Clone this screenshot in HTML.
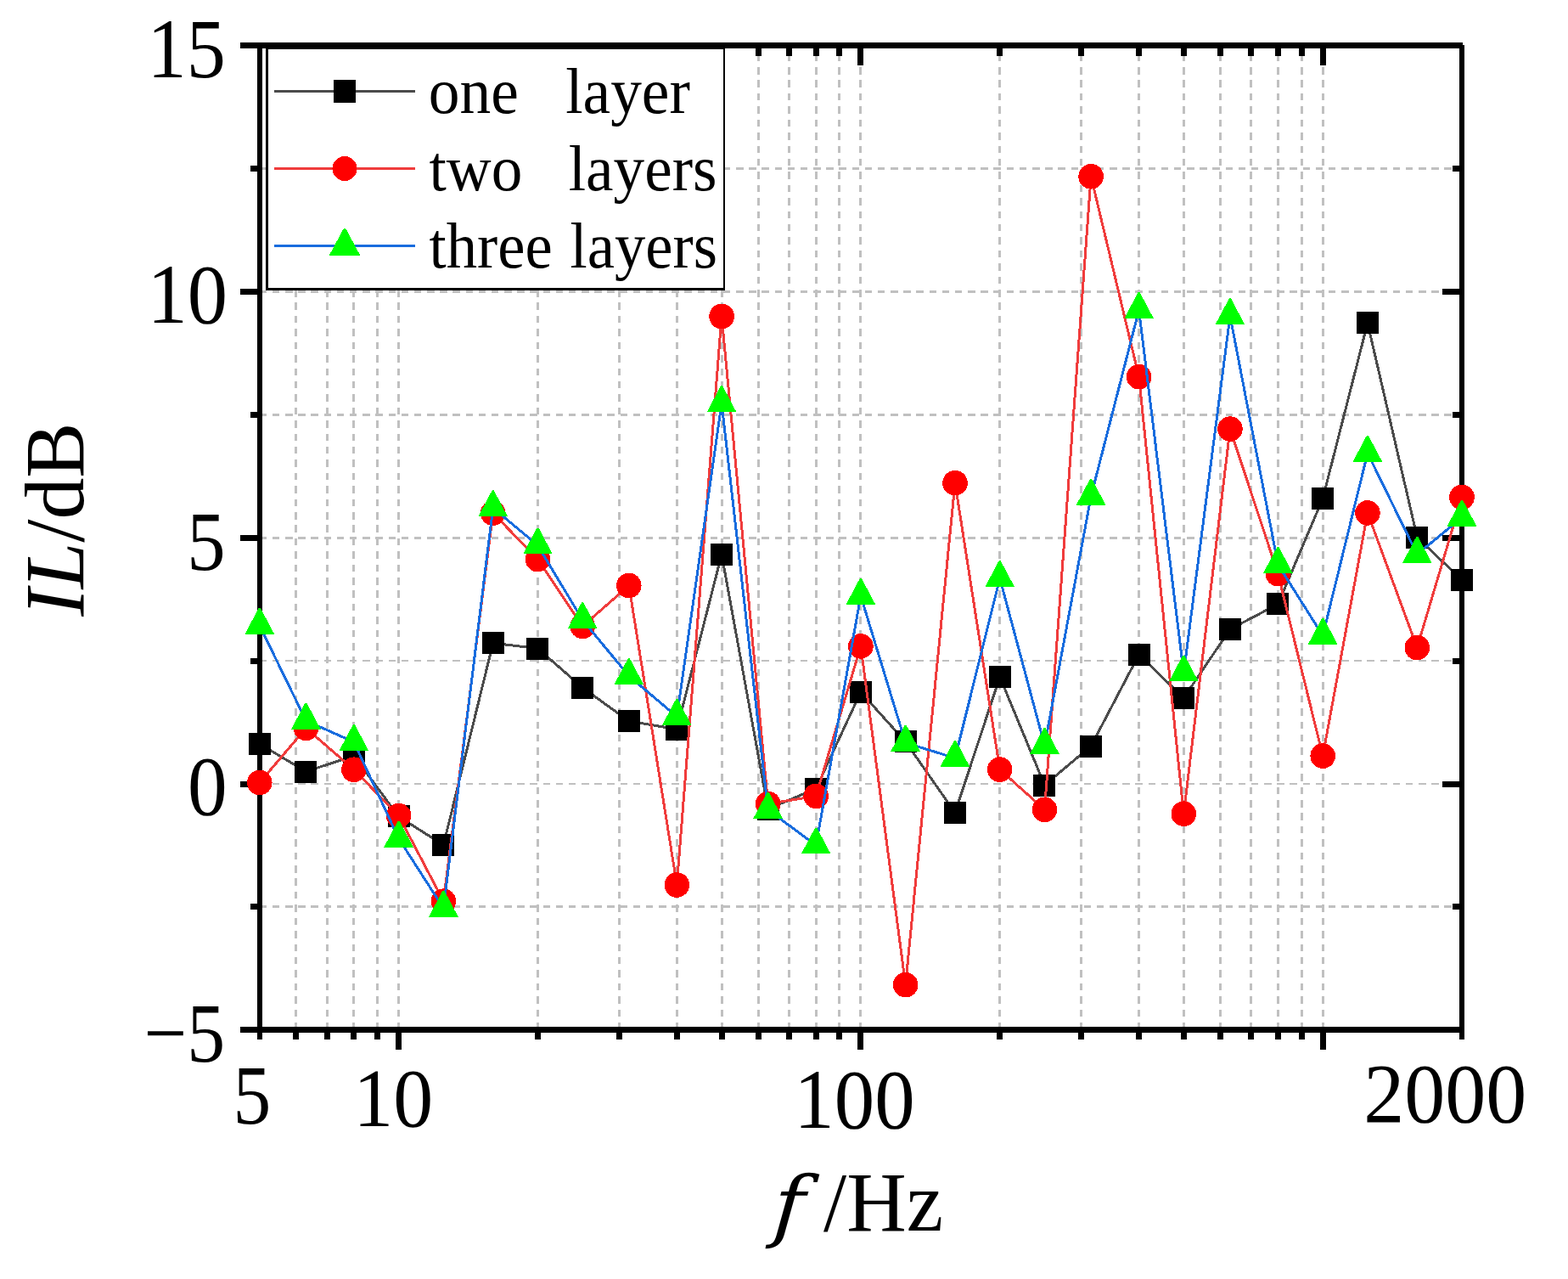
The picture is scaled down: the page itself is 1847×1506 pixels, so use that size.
<!DOCTYPE html>
<html lang="en"><head><meta charset="utf-8"><title>IL/dB versus f/Hz</title>
<style>
html,body{margin:0;padding:0;background:#ffffff;}
body{width:1847px;height:1506px;overflow:hidden;}
svg{display:block;}
text{font-family:"Liberation Serif",serif;fill:#000000;}
.it{font-style:italic;}
</style></head><body>
<svg width="1847" height="1506" viewBox="0 0 1847 1506" role="img" aria-label="Insertion loss IL/dB versus frequency f/Hz for one, two and three layers">
<rect x="0" y="0" width="1847" height="1506" fill="#ffffff"/>
<g stroke="#c0c0c0" stroke-width="3" fill="none" shape-rendering="crispEdges">
<line x1="305.80" y1="198.5" x2="1722.00" y2="198.5" stroke-width="3" stroke-dasharray="8.50 6.67"/>
<line x1="305.80" y1="343.5" x2="1722.00" y2="343.5" stroke-width="3" stroke-dasharray="8.50 6.67"/>
<line x1="305.80" y1="488.5" x2="1722.00" y2="488.5" stroke-width="3" stroke-dasharray="8.50 6.67"/>
<line x1="305.80" y1="633.5" x2="1722.00" y2="633.5" stroke-width="3" stroke-dasharray="8.50 6.67"/>
<line x1="305.80" y1="778.0" x2="1722.00" y2="778.0" stroke-width="2" stroke-dasharray="8.50 6.67"/>
<line x1="305.80" y1="923.0" x2="1722.00" y2="923.0" stroke-width="2" stroke-dasharray="8.50 6.67"/>
<line x1="305.80" y1="1067.5" x2="1722.00" y2="1067.5" stroke-width="3" stroke-dasharray="8.50 6.67"/>
<line x1="348.5" y1="1212.50" x2="348.5" y2="53.50" stroke-dasharray="8.50 6.91"/>
<line x1="385.5" y1="1212.50" x2="385.5" y2="53.50" stroke-dasharray="8.50 6.91"/>
<line x1="416.5" y1="1212.50" x2="416.5" y2="53.50" stroke-dasharray="8.50 6.91"/>
<line x1="444.5" y1="1212.50" x2="444.5" y2="53.50" stroke-dasharray="8.50 6.91"/>
<line x1="469.5" y1="1212.50" x2="469.5" y2="53.50" stroke-dasharray="8.50 6.91"/>
<line x1="633.5" y1="1212.50" x2="633.5" y2="53.50" stroke-dasharray="8.50 6.91"/>
<line x1="729.5" y1="1212.50" x2="729.5" y2="53.50" stroke-dasharray="8.50 6.91"/>
<line x1="797.5" y1="1212.50" x2="797.5" y2="53.50" stroke-dasharray="8.50 6.91"/>
<line x1="850.5" y1="1212.50" x2="850.5" y2="53.50" stroke-dasharray="8.50 6.91"/>
<line x1="893.5" y1="1212.50" x2="893.5" y2="53.50" stroke-dasharray="8.50 6.91"/>
<line x1="929.5" y1="1212.50" x2="929.5" y2="53.50" stroke-dasharray="8.50 6.91"/>
<line x1="961.5" y1="1212.50" x2="961.5" y2="53.50" stroke-dasharray="8.50 6.91"/>
<line x1="988.5" y1="1212.50" x2="988.5" y2="53.50" stroke-dasharray="8.50 6.91"/>
<line x1="1013.5" y1="1212.50" x2="1013.5" y2="53.50" stroke-dasharray="8.50 6.91"/>
<line x1="1177.5" y1="1212.50" x2="1177.5" y2="53.50" stroke-dasharray="8.50 6.91"/>
<line x1="1273.5" y1="1212.50" x2="1273.5" y2="53.50" stroke-dasharray="8.50 6.91"/>
<line x1="1341.5" y1="1212.50" x2="1341.5" y2="53.50" stroke-dasharray="8.50 6.91"/>
<line x1="1394.5" y1="1212.50" x2="1394.5" y2="53.50" stroke-dasharray="8.50 6.91"/>
<line x1="1437.5" y1="1212.50" x2="1437.5" y2="53.50" stroke-dasharray="8.50 6.91"/>
<line x1="1473.5" y1="1212.50" x2="1473.5" y2="53.50" stroke-dasharray="8.50 6.91"/>
<line x1="1505.5" y1="1212.50" x2="1505.5" y2="53.50" stroke-dasharray="8.50 6.91"/>
<line x1="1533.5" y1="1212.50" x2="1533.5" y2="53.50" stroke-dasharray="8.50 6.91"/>
<line x1="1558.5" y1="1212.50" x2="1558.5" y2="53.50" stroke-dasharray="8.50 6.91"/>
</g>
<g fill="#000000" shape-rendering="crispEdges">
<rect x="283" y="50" width="1440" height="7"/>
<rect x="283" y="1209" width="1442" height="7"/>
<rect x="303" y="50" width="6" height="1174"/>
<rect x="1719" y="53" width="6" height="1171"/>
<rect x="345" y="1212" width="7" height="12"/>
<rect x="345" y="53" width="7" height="13"/>
<rect x="382" y="1212" width="7" height="12"/>
<rect x="382" y="53" width="7" height="13"/>
<rect x="413" y="1212" width="7" height="12"/>
<rect x="413" y="53" width="7" height="13"/>
<rect x="441" y="1212" width="7" height="12"/>
<rect x="441" y="53" width="7" height="13"/>
<rect x="466" y="1212" width="7" height="24"/>
<rect x="466" y="53" width="7" height="24"/>
<rect x="630" y="1212" width="7" height="12"/>
<rect x="630" y="53" width="7" height="13"/>
<rect x="726" y="1212" width="7" height="12"/>
<rect x="726" y="53" width="7" height="13"/>
<rect x="794" y="1212" width="7" height="12"/>
<rect x="794" y="53" width="7" height="13"/>
<rect x="847" y="1212" width="7" height="12"/>
<rect x="847" y="53" width="7" height="13"/>
<rect x="890" y="1212" width="7" height="12"/>
<rect x="890" y="53" width="7" height="13"/>
<rect x="926" y="1212" width="7" height="12"/>
<rect x="926" y="53" width="7" height="13"/>
<rect x="958" y="1212" width="7" height="12"/>
<rect x="958" y="53" width="7" height="13"/>
<rect x="985" y="1212" width="7" height="12"/>
<rect x="985" y="53" width="7" height="13"/>
<rect x="1010" y="1212" width="7" height="24"/>
<rect x="1010" y="53" width="7" height="24"/>
<rect x="1174" y="1212" width="7" height="12"/>
<rect x="1174" y="53" width="7" height="13"/>
<rect x="1270" y="1212" width="7" height="12"/>
<rect x="1270" y="53" width="7" height="13"/>
<rect x="1338" y="1212" width="7" height="12"/>
<rect x="1338" y="53" width="7" height="13"/>
<rect x="1391" y="1212" width="7" height="12"/>
<rect x="1391" y="53" width="7" height="13"/>
<rect x="1434" y="1212" width="7" height="12"/>
<rect x="1434" y="53" width="7" height="13"/>
<rect x="1470" y="1212" width="7" height="12"/>
<rect x="1470" y="53" width="7" height="13"/>
<rect x="1502" y="1212" width="7" height="12"/>
<rect x="1502" y="53" width="7" height="13"/>
<rect x="1530" y="1212" width="7" height="12"/>
<rect x="1530" y="53" width="7" height="13"/>
<rect x="1555" y="1212" width="7" height="24"/>
<rect x="1555" y="53" width="7" height="24"/>
<rect x="295" y="195" width="11" height="7"/>
<rect x="1711" y="195" width="11" height="7"/>
<rect x="283" y="340" width="23" height="7"/>
<rect x="1699" y="340" width="23" height="7"/>
<rect x="295" y="485" width="11" height="7"/>
<rect x="1711" y="485" width="11" height="7"/>
<rect x="283" y="630" width="23" height="7"/>
<rect x="1699" y="630" width="23" height="7"/>
<rect x="295" y="775" width="11" height="7"/>
<rect x="1711" y="775" width="11" height="7"/>
<rect x="283" y="920" width="23" height="7"/>
<rect x="1699" y="920" width="23" height="7"/>
<rect x="295" y="1064" width="11" height="7"/>
<rect x="1711" y="1064" width="11" height="7"/>
</g>
<g>
<g shape-rendering="crispEdges">
<rect x="313" y="55" width="541" height="287" fill="#ffffff"/>
<rect x="313" y="55" width="541" height="3" fill="#000000"/>
<rect x="313" y="339" width="541" height="3" fill="#000000"/>
<rect x="313" y="55" width="3" height="287" fill="#000000"/>
<rect x="852" y="55" width="2" height="287" fill="#000000"/>
</g>
<line x1="323.1" y1="107.50" x2="489.0" y2="107.50" stroke="#4b4b4b" stroke-width="3" shape-rendering="crispEdges"/>
<rect x="393" y="94" width="26" height="27" fill="#000000" shape-rendering="crispEdges"/>
<line x1="323.1" y1="198.50" x2="489.0" y2="198.50" stroke="#f03c3c" stroke-width="3" shape-rendering="crispEdges"/>
<circle cx="406" cy="198.5" r="14.5" fill="#ff0000" shape-rendering="crispEdges"/>
<line x1="323.1" y1="289.50" x2="489.0" y2="289.50" stroke="#186cde" stroke-width="3" shape-rendering="crispEdges"/>
<polygon points="405,268.6 407,268.6 424.4,301 387.6,301" fill="#00ff00" shape-rendering="crispEdges"/>
</g>
<g>
<polyline points="305.80,876.00 360.43,908.50 416.89,890.00 469.64,961.50 522.38,995.00 580.73,757.20 633.48,763.60 686.22,809.70 740.85,849.10 797.32,858.70 850.06,652.90 904.69,952.60 961.16,928.60 1013.90,814.90 1066.64,873.40 1124.99,956.90 1177.74,797.00 1230.48,924.50 1285.11,878.50 1341.58,770.80 1394.32,821.80 1448.95,741.00 1505.42,711.30 1558.16,587.00 1610.91,380.30 1669.26,632.60 1722.00,683.00" fill="none" stroke="#4b4b4b" stroke-width="3.00" stroke-linejoin="round" shape-rendering="crispEdges"/>
<g fill="#000000" shape-rendering="crispEdges">
<rect x="293" y="863" width="26" height="26"/>
<rect x="347" y="896" width="26" height="26"/>
<rect x="404" y="877" width="26" height="26"/>
<rect x="457" y="948" width="26" height="26"/>
<rect x="509" y="982" width="26" height="26"/>
<rect x="568" y="744" width="26" height="26"/>
<rect x="620" y="751" width="26" height="26"/>
<rect x="673" y="797" width="26" height="26"/>
<rect x="728" y="836" width="26" height="26"/>
<rect x="784" y="846" width="26" height="26"/>
<rect x="837" y="640" width="26" height="26"/>
<rect x="892" y="940" width="26" height="26"/>
<rect x="948" y="916" width="26" height="26"/>
<rect x="1001" y="802" width="26" height="26"/>
<rect x="1054" y="860" width="26" height="26"/>
<rect x="1112" y="944" width="26" height="26"/>
<rect x="1165" y="784" width="26" height="26"/>
<rect x="1217" y="912" width="26" height="26"/>
<rect x="1272" y="866" width="26" height="26"/>
<rect x="1329" y="758" width="26" height="26"/>
<rect x="1381" y="809" width="26" height="26"/>
<rect x="1436" y="728" width="26" height="26"/>
<rect x="1492" y="698" width="26" height="26"/>
<rect x="1545" y="574" width="26" height="26"/>
<rect x="1598" y="367" width="26" height="26"/>
<rect x="1656" y="620" width="26" height="26"/>
<rect x="1709" y="670" width="26" height="26"/>
</g>
<polyline points="305.80,921.50 360.43,857.40 416.89,906.20 469.64,960.50 522.38,1061.20 580.73,604.10 633.48,658.60 686.22,737.40 740.85,689.50 797.32,1042.00 850.06,372.50 904.69,946.50 961.16,937.40 1013.90,760.90 1066.64,1159.60 1124.99,568.70 1177.74,906.10 1230.48,953.40 1285.11,207.80 1341.58,443.70 1394.32,958.20 1448.95,505.10 1505.42,675.70 1558.16,890.10 1610.91,603.90 1669.26,762.60 1722.00,585.50" fill="none" stroke="#f03c3c" stroke-width="3.00" stroke-linejoin="round" shape-rendering="crispEdges"/>
<g fill="#ff0000" shape-rendering="crispEdges">
<circle cx="305.8" cy="921.5" r="14.8"/>
<circle cx="360.4" cy="857.4" r="14.8"/>
<circle cx="416.9" cy="906.2" r="14.8"/>
<circle cx="469.6" cy="960.5" r="14.8"/>
<circle cx="522.4" cy="1061.2" r="14.8"/>
<circle cx="580.7" cy="604.1" r="14.8"/>
<circle cx="633.5" cy="658.6" r="14.8"/>
<circle cx="686.2" cy="737.4" r="14.8"/>
<circle cx="740.8" cy="689.5" r="14.8"/>
<circle cx="797.3" cy="1042.0" r="14.8"/>
<circle cx="850.1" cy="372.5" r="14.8"/>
<circle cx="904.7" cy="946.5" r="14.8"/>
<circle cx="961.2" cy="937.4" r="14.8"/>
<circle cx="1013.9" cy="760.9" r="14.8"/>
<circle cx="1066.6" cy="1159.6" r="14.8"/>
<circle cx="1125.0" cy="568.7" r="14.8"/>
<circle cx="1177.7" cy="906.1" r="14.8"/>
<circle cx="1230.5" cy="953.4" r="14.8"/>
<circle cx="1285.1" cy="207.8" r="14.8"/>
<circle cx="1341.6" cy="443.7" r="14.8"/>
<circle cx="1394.3" cy="958.2" r="14.8"/>
<circle cx="1448.9" cy="505.1" r="14.8"/>
<circle cx="1505.4" cy="675.7" r="14.8"/>
<circle cx="1558.2" cy="890.1" r="14.8"/>
<circle cx="1610.9" cy="603.9" r="14.8"/>
<circle cx="1669.3" cy="762.6" r="14.8"/>
<circle cx="1722.0" cy="585.5" r="14.8"/>
</g>
<polyline points="305.80,736.55 360.43,848.55 416.89,873.75 469.64,987.45 522.38,1069.45 580.73,598.05 633.48,642.25 686.22,730.05 740.85,795.95 797.32,843.85 850.06,475.05 904.69,953.55 961.16,995.25 1013.90,701.65 1066.64,874.55 1124.99,892.65 1177.74,680.95 1230.48,877.75 1285.11,584.55 1341.58,364.95 1394.32,792.25 1448.95,372.05 1505.42,664.75 1558.16,748.45 1610.91,533.55 1669.26,652.75 1722.00,609.45" fill="none" stroke="#186cde" stroke-width="3.00" stroke-linejoin="round" shape-rendering="crispEdges"/>
<g fill="#00ff00" shape-rendering="crispEdges">
<polygon points="304.8,715.8 306.8,715.8 323.1,746.6 288.5,746.6"/>
<polygon points="359.4,827.8 361.4,827.8 377.7,858.6 343.1,858.6"/>
<polygon points="415.9,853.0 417.9,853.0 434.2,883.8 399.6,883.8"/>
<polygon points="468.6,966.7 470.6,966.7 486.9,997.5 452.3,997.5"/>
<polygon points="521.4,1048.7 523.4,1048.7 539.7,1079.5 505.1,1079.5"/>
<polygon points="579.7,577.3 581.7,577.3 598.0,608.1 563.4,608.1"/>
<polygon points="632.5,621.5 634.5,621.5 650.8,652.3 616.2,652.3"/>
<polygon points="685.2,709.3 687.2,709.3 703.5,740.1 668.9,740.1"/>
<polygon points="739.8,775.2 741.8,775.2 758.1,806.0 723.5,806.0"/>
<polygon points="796.3,823.1 798.3,823.1 814.6,853.9 780.0,853.9"/>
<polygon points="849.1,454.2 851.1,454.2 867.4,485.1 832.8,485.1"/>
<polygon points="903.7,932.8 905.7,932.8 922.0,963.6 887.4,963.6"/>
<polygon points="960.2,974.5 962.2,974.5 978.5,1005.3 943.9,1005.3"/>
<polygon points="1012.9,680.9 1014.9,680.9 1031.2,711.7 996.6,711.7"/>
<polygon points="1065.6,853.8 1067.6,853.8 1083.9,884.6 1049.3,884.6"/>
<polygon points="1124.0,871.9 1126.0,871.9 1142.3,902.7 1107.7,902.7"/>
<polygon points="1176.7,660.2 1178.7,660.2 1195.0,691.0 1160.4,691.0"/>
<polygon points="1229.5,857.0 1231.5,857.0 1247.8,887.8 1213.2,887.8"/>
<polygon points="1284.1,563.8 1286.1,563.8 1302.4,594.6 1267.8,594.6"/>
<polygon points="1340.6,344.1 1342.6,344.1 1358.9,375.0 1324.3,375.0"/>
<polygon points="1393.3,771.5 1395.3,771.5 1411.6,802.3 1377.0,802.3"/>
<polygon points="1447.9,351.2 1449.9,351.2 1466.2,382.1 1431.6,382.1"/>
<polygon points="1504.4,644.0 1506.4,644.0 1522.7,674.8 1488.1,674.8"/>
<polygon points="1557.2,727.7 1559.2,727.7 1575.5,758.5 1540.9,758.5"/>
<polygon points="1609.9,512.8 1611.9,512.8 1628.2,543.6 1593.6,543.6"/>
<polygon points="1668.3,632.0 1670.3,632.0 1686.6,662.8 1652.0,662.8"/>
<polygon points="1721.0,588.7 1723.0,588.7 1739.3,619.5 1704.7,619.5"/>
</g>
</g>
<g>
<text transform="translate(173.60 91.00) scale(0.9218 1.0015)" font-size="100.00" xml:space="preserve">15</text>
<text transform="translate(173.39 380.02) scale(0.9460 0.9882)" font-size="100.00" xml:space="preserve">10</text>
<text transform="translate(220.36 671.00) scale(0.9075 1.0000)" font-size="100.00" xml:space="preserve">5</text>
<text transform="translate(220.97 958.91) scale(0.9333 0.9970)" font-size="100.00" xml:space="preserve">0</text>
<text transform="translate(169.51 1249.90) scale(0.8990 0.9985)" font-size="100.00" xml:space="preserve">−5</text>
<text transform="translate(274.53 1322.81) scale(0.8950 0.9909)" font-size="100.00" xml:space="preserve">5</text>
<text transform="translate(416.35 1326.04) scale(0.9391 0.9824)" font-size="100.00" xml:space="preserve">10</text>
<text transform="translate(935.25 1328.40) scale(0.9496 0.9985)" font-size="100.00" xml:space="preserve">100</text>
<text transform="translate(1606.16 1320.90) scale(0.9604 1.0000)" font-size="100.00" xml:space="preserve">2000</text>
<text transform="translate(0 132.60) scale(0.9600 1)" font-size="76.50" xml:space="preserve"><tspan x="525.85">one </tspan><tspan x="693.94">layer</tspan></text>
<text transform="translate(0 223.65) scale(0.9570 1)" font-size="76.50" xml:space="preserve"><tspan x="528.16">two </tspan><tspan x="699.89">layers</tspan></text>
<text transform="translate(0 314.70) scale(0.9500 1)" font-size="76.50" xml:space="preserve"><tspan x="532.05">three </tspan><tspan x="706.84">layers</tspan></text>
<text transform="translate(908.90 1451.00) skewX(-4) scale(1.1640 0.9750)" font-size="95.00" style="font-family:'DejaVu Serif Condensed','DejaVu Serif','Liberation Serif',serif;font-style:italic">f</text>
<text transform="translate(970.10 1448.70) scale(0.9864 1)" font-size="99.00">/Hz</text>
<text transform="translate(98.00 725.70) rotate(-90) scale(0.9830 1)" font-size="99.50"><tspan class="it">IL</tspan>/dB</text>
</g>
</svg>
</body></html>
